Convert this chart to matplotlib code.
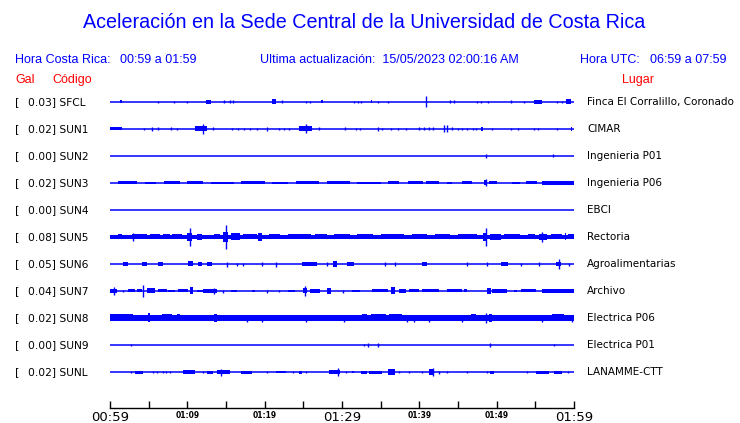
import matplotlib
matplotlib.use("Agg")
import matplotlib.pyplot as plt

# ---------------- data ----------------
codes = ["SFCL", "SUN1", "SUN2", "SUN3", "SUN4", "SUN5", "SUN6", "SUN7", "SUN8", "SUN9", "SUNL"]
gal = [0.03, 0.02, 0.00, 0.02, 0.00, 0.08, 0.05, 0.04, 0.02, 0.00, 0.02]
places = ["Finca El Corralillo, Coronado", "CIMAR", "Ingenieria P01", "Ingenieria P06", "EBCI",
          "Rectoria", "Agroalimentarias", "Archivo", "Electrica P06", "Electrica P01", "LANAMME-CTT"]
# background noise half-width per trace (relative units)
noise = [0, 0, 0, 0, 0, 2, 0, 0, 3, 0, 0]
# bursts: (start minute, end minute, half amplitude) after 00:59
ev_SFCL = [(1.3,1.5,1.5),(6.2,6.2,1.2),(8.3,8.3,1.2),(9.9,9.9,1.2),(12.4,13.0,2),(14.7,14.7,1.5),(15.5,15.5,1.5),
           (15.9,15.9,1.5),(21.0,21.5,2.5),(22.2,22.2,1.5),(25.4,25.4,1.2),(25.8,25.8,1.2),(27.3,27.5,1.5),
           (31.5,31.5,1.2),(32.1,32.1,1.2),(32.5,32.5,1.2),(33.8,33.9,1.5),(34.7,34.7,1.2),(35.9,35.9,1.2),
           (40.8,40.8,5.5),(44.0,44.0,1.5),(44.5,44.5,1.5),(47.5,47.5,1.2),(48.0,48.0,1.2),(48.9,48.9,1.2),
           (51.9,51.9,1.5),(53.5,53.5,1.2),(54.8,55.9,2),(57.8,57.8,1.2),(58.4,58.4,1.2),(59.0,59.6,2.5)]
ev_SUN1 = [(0.0,1.5,1.5),(4.4,4.4,1.2),(5.4,5.4,2),(6.2,6.2,1.5),(7.9,7.9,1.5),(8.6,8.6,1.2),(9.4,9.5,1.5),
           (11.0,12.6,2.5),(12.0,12.0,5),(13.3,13.3,1.5),(15.8,15.8,1.2),(16.6,16.6,1.2),(17.3,17.3,1.2),
           (18.1,18.1,1.2),(19.0,19.0,1.2),(20.3,20.3,2),(21.9,21.9,1.2),(22.5,22.5,1.2),(23.2,23.2,1.2),
           (24.5,26.1,2.5),(25.4,25.4,4.5),(27.0,27.0,1.5),(30.4,30.4,1.5),(31.8,31.8,1.2),(32.3,32.3,1.2),
           (34.6,34.6,2),(35.2,35.2,1.2),(36.4,36.4,1.2),(37.3,37.3,1.2),(38.3,38.3,1.2),(39.9,39.9,1.5),
           (40.6,40.6,1.5),(41.3,41.3,1.5),(41.8,41.8,1.5),(43.2,43.2,3.5),(43.6,43.6,3.5),(44.2,44.2,1.5),
           (45.0,45.0,1.2),(45.5,45.5,1.2),(46.2,46.2,1.2),(47.0,47.0,1.2),(47.3,47.3,1.2),(48.0,48.2,2),
           (49.4,49.4,1.2),(51.9,51.9,1.2),(52.8,52.8,1.2),(54.8,54.8,1.2),(55.3,55.3,1.2),(57.8,57.8,1.2),
           (59.6,59.8,2)]
ev_SUN2 = [(48.6,48.6,2),(57.3,57.3,1.5)]
ev_SUN3 = [(1.0,3.5,1.5),(4.5,6.0,1.2),(7.0,9.0,1.5),(10.0,12.0,1.5),(13.0,16.0,1.2),(17.0,20.0,1.5),(21.0,23.0,1.2),
           (24.0,27.0,1.5),(28.0,31.0,1.5),(32.0,35.0,1.2),(36.0,37.4,1.5),(38.5,40.5,1.5),(40.9,42.6,1.5),(43.6,44.2,1.2),
           (45.5,46.8,1.5),(48.4,48.8,2.5),(48.6,48.6,3.5),(49.0,50.0,1.5),(52.0,53.0,1.2),(53.8,55.2,1.5),(55.9,60.0,2)]
ev_SUN4 = []
ev_SUN5 = [(1.0,1.5,2.5),(2.8,4.8,2.5),(3.0,3.0,4),(5.2,6.5,2.5),(6.8,7.7,2.5),(8.0,9.3,2.5),(10.0,10.6,4),
           (10.3,10.3,9),(11.2,11.9,3),(13.5,14.2,2.5),(14.6,15.2,5),(15.0,15.0,12),(15.7,16.8,3.5),(17.2,19.0,2.5),
           (19.2,19.7,4),(20.5,22.0,2.5),(23.0,26.0,2.5),(26.5,28.0,2.5),(29.0,31.0,2.5),(32.0,34.0,2.5),(35.0,38.0,2.5),
           (39.0,41.0,2.5),(42.0,44.0,2.5),(45.0,47.5,2.5),(48.2,48.8,4),(48.6,48.6,9),(49.2,50.5,3),(51.0,53.0,2.5),
           (54.0,55.0,2.5),(55.5,56.5,3),(55.8,55.8,5),(57.0,58.5,2.5),(58.8,59.0,3.5),(59.2,60.0,2.5)]
ev_SUN6 = [(1.7,2.3,2),(4.1,4.8,2),(6.2,6.8,2),(10.1,10.7,2.5),(11.4,11.9,2),(12.5,13.2,2),(15.1,15.1,2.5),
           (16.4,16.4,1.5),(17.2,17.2,1.5),(19.7,19.7,2),(21.5,21.5,2.5),(24.8,26.8,2),(28.0,28.0,2),(28.8,29.4,3),
           (30.7,31.6,2),(35.5,35.5,2),(36.8,36.8,2),(40.4,41.0,2),(46.2,46.2,2),(48.8,48.8,2),(50.5,51.5,2),
           (53.1,53.1,1.5),(55.5,55.5,2),(57.7,58.3,2),(58.0,58.0,5),(59.3,59.3,1.5)]
ev_SUN7 = [(0.0,0.9,2),(0.5,0.5,4),(1.7,1.7,1.2),(2.3,3.2,1.5),(3.5,4.1,1.5),(4.3,4.3,6),(4.8,5.8,2.5),(6.2,7.4,1.5),
           (7.5,8.4,1.2),(8.8,10.1,1.5),(10.3,10.7,3.5),(11.2,12.0,1.2),(12.0,13.9,2),(13.5,13.5,3),(14.6,14.6,1.5),
           (15.7,16.4,1.2),(18.3,18.7,1.2),(20.3,20.3,1.5),(21.9,21.9,1.2),(23.0,23.9,1.2),(24.9,25.5,2.5),
           (25.2,25.2,5),(25.8,27.1,2),(28.1,28.6,3),(30.1,30.1,1.5),(31.3,32.3,1.2),(33.9,35.9,1.5),
           (36.4,36.8,3.5),(37.4,38.3,2),(38.7,40.0,1.5),(40.4,42.6,1.5),(43.6,45.5,1.5),(45.8,46.2,1.5),(48.8,49.3,3),
           (49.4,51.3,2),(52.2,52.6,1.2),(53.1,55.1,1.5),(55.9,60.0,2)]
ev_SUN8 = [(0.0,3.0,3.5),(4.9,5.2,4.5),(6.7,8.0,3.5),(8.6,9.0,3.5),(13.5,13.9,4),(17.7,17.7,3.5),(19.7,19.7,3.5),
           (25.4,25.4,3.5),(30.3,30.3,3.5),(32.6,33.2,3.5),(33.8,35.7,3.5),(36.1,37.7,3.5),(38.4,38.4,3.5),
           (39.3,39.3,3.5),(41.3,41.3,3.5),(45.5,45.5,3.5),(46.7,47.3,3.5),(48.6,48.6,5),(49.0,49.4,4),
           (55.9,55.9,3.5),(57.1,58.7,3.5),(59.7,59.7,3.5)]
ev_SUN9 = [(2.7,2.7,1.2),(32.8,32.8,1.2),(33.4,33.4,2),(34.6,34.6,2),(49.1,49.1,2),(57.4,57.4,1.2)]
ev_SUNL = [(2.7,2.7,1.2),(3.2,4.3,1.5),(5.5,5.5,1.2),(6.1,6.1,1.2),(6.8,6.8,1.2),(7.2,7.2,1.2),(7.7,7.7,1.2),
           (9.4,11.0,2),(12.0,12.0,1.2),(12.5,13.3,1.5),(13.8,15.5,2),(14.4,14.4,3.5),(17.0,18.4,1.5),
           (20.3,20.3,1.2),(21.5,22.8,1.2),(23.7,23.7,1.2),(24.5,24.8,1.5),(25.4,25.4,1.2),(28.3,29.7,2),
           (29.5,29.5,4),(30.5,30.5,1.2),(31.3,31.6,1.2),(32.5,33.2,1.5),(33.5,35.2,1.5),(35.9,36.8,2.5),(37.4,37.4,1.2),
           (38.7,38.7,1.2),(40.3,40.3,1.2),(41.3,41.9,3),(41.8,41.8,4.5),(42.6,42.6,1.5),(43.6,43.6,1.2),
           (46.1,46.1,1.2),(48.8,48.8,1.2),(49.1,49.7,1.5),(53.9,53.9,1.2),(55.1,56.8,1.5),(57.4,58.4,1.5),(59.2,59.2,1.2)]
events = [ev_SFCL, ev_SUN1, ev_SUN2, ev_SUN3, ev_SUN4, ev_SUN5, ev_SUN6, ev_SUN7, ev_SUN8, ev_SUN9, ev_SUNL]

tick_major = [0, 10, 20, 30, 40, 50, 60]
tick_labels = ["00:59", "01:09", "01:19", "01:29", "01:39", "01:49", "01:59"]
tick_minor = [5, 15, 25, 35, 45, 55]

title = "Aceleración en la Sede Central de la Universidad de Costa Rica"
hora_cr = "00:59 a 01:59"
hora_utc = "06:59 a 07:59"
actualizacion = "15/05/2023 02:00:16 AM"

# ---------------- figure ----------------
W, H = 740, 423
fig = plt.figure(figsize=(W / 100, H / 100), dpi=100)
BLUE = "#0000ff"
RED = "#ff0000"
SANS = ["Liberation Sans", "DejaVu Sans"]

def fx(px):
    return px / W

def fy(py):
    return 1 - py / H

row0, spacing, axis_y = 102, 27, 408
top_px = 90
ax = fig.add_axes([fx(110), fy(axis_y), fx(574) - fx(110), fy(top_px) - fy(axis_y)])
n = len(codes)
ylo = (axis_y - row0) / spacing
yhi = -(row0 - top_px) / spacing
ax.set_ylim(ylo, yhi)
ax.set_xlim(0, 60)
scale = 1.0 / spacing  # amplitude units -> row units

for i in range(n):
    ax.hlines(i, 0, 60, color=BLUE, lw=1.1)
    if noise[i]:
        ax.fill_between([0, 60], i - noise[i] * scale, i + noise[i] * scale, color=BLUE, lw=0)
    for (t0, t1, a) in events[i]:
        if t1 > t0:
            ax.fill_between([t0, t1], i - a * scale, i + a * scale, color=BLUE, lw=0)
        else:
            ax.vlines(t0, i - a * scale, i + a * scale, color=BLUE, lw=1.0)

    fig.text(fx(15), fy(row0 + i * spacing), "[", fontsize=8, va="center", ha="left",
             family="DejaVu Sans", color="black")
    fig.text(fx(28), fy(row0 + i * spacing), f"{gal[i]:.2f}] {codes[i]}", fontsize=7.7, va="center",
             ha="left", family="DejaVu Sans", color="black")
    fig.text(fx(587), fy(row0 + i * spacing), places[i], fontsize=7.5, va="center", ha="left",
             family="DejaVu Sans", color="black")

for s in ["top", "left", "right"]:
    ax.spines[s].set_visible(False)
ax.spines["bottom"].set_linewidth(1.0)
ax.set_yticks([])
ax.set_xticks(tick_major)
ax.set_xticks(tick_minor, minor=True)
ax.set_xticklabels(tick_labels)
ax.tick_params(axis="x", which="both", direction="in", length=5, width=1.0, pad=2, color="black")
for k, lab in enumerate(ax.get_xticklabels()):
    if k % 3 == 0:
        lab.set_fontsize(9.5)
        lab.set_family("DejaVu Sans")
    else:
        lab.set_fontsize(5.5)
        lab.set_family("DejaVu Sans")
        lab.set_fontweight("bold")

# ---------------- header texts ----------------
fig.text(fx(364), fy(22), title, fontsize=14.2, color=BLUE, ha="center", va="center", family=SANS)
hs = 9
fig.text(fx(15), fy(60), "Hora Costa Rica:", fontsize=hs, color=BLUE, ha="left", va="center", family=SANS)
fig.text(fx(120), fy(60), hora_cr, fontsize=hs, color=BLUE, ha="left", va="center", family=SANS)
fig.text(fx(260), fy(60), "Ultima actualización:  " + actualizacion, fontsize=hs, color=BLUE,
         ha="left", va="center", family=SANS)
fig.text(fx(580), fy(60), "Hora UTC:", fontsize=hs, color=BLUE, ha="left", va="center", family=SANS)
fig.text(fx(650), fy(60), hora_utc, fontsize=hs, color=BLUE, ha="left", va="center", family=SANS)
fig.text(fx(15), fy(80), "Gal", fontsize=hs, color=RED, ha="left", va="center", family=SANS)
fig.text(fx(52), fy(80), "Código", fontsize=hs, color=RED, ha="left", va="center", family=SANS)
fig.text(fx(622), fy(80), "Lugar", fontsize=hs, color=RED, ha="left", va="center", family=SANS)

fig.savefig("out.png", dpi=100)
